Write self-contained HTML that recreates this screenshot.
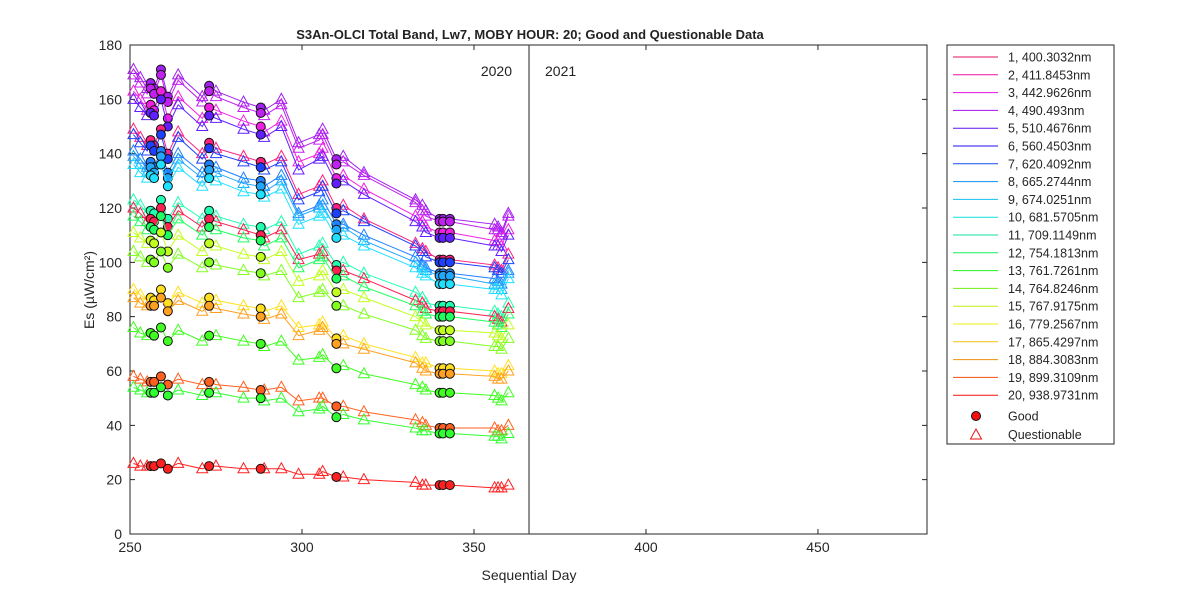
<!DOCTYPE html>
<html><head><meta charset="utf-8"><style>
body{margin:0;background:#fff;}
svg text{font-family:"Liberation Sans",Arial,sans-serif;}
</style></head><body>
<svg id="chart" width="1200" height="600" xmlns="http://www.w3.org/2000/svg">
<rect x="0" y="0" width="1200" height="600" fill="#fff"/>
<text x="530" y="39" text-anchor="middle" font-size="13" font-weight="bold" fill="#222">S3An-OLCI Total Band,  Lw7, MOBY HOUR: 20;  Good and Questionable Data</text>
<g id="plot"></g>
<text transform="translate(94,290) rotate(-90)" text-anchor="middle" font-size="14" fill="#262626">Es (µW/cm²)</text>
<text x="529" y="580" text-anchor="middle" font-size="14" fill="#262626">Sequential Day</text>
<text x="512" y="76" text-anchor="end" font-size="14" fill="#222">2020</text>
<text x="545" y="76" font-size="14" fill="#222">2021</text>
<g id="legend"></g>
</svg>
<script>
const days=[251,253,255,256,257,259,261,264,271,273,275,283,288,289,294,299,305,306,310,312,318,333,335,336,340,341,343,356,357,358,360];
const good=[0,0,0,1,1,1,1,0,0,1,0,0,1,0,0,0,0,0,1,0,0,0,0,0,1,1,1,0,0,0,0];
const sA=[171,168,164,166,164,171,161,169,161,165,163,159,157,156,160,144,147,149,138,139,133,123,121,119,116,116,116,114,113,111,118];
const sB=[169,166,162,164,162,169,159,167,159,163,161,157,155,154,158,142,145,147,136,137,132,122,119,117,115,115,115,112,112,110,117];
const sC=[163,160,156,158,156,163,153,161,153,157,156,152,150,148,152,137,140,142,131,132,127,117,115,113,111,111,111,108,108,106,112];
const sD=[160,157,154,155,154,160,150,158,150,154,153,149,147,146,150,134,138,139,129,130,125,115,113,111,109,109,109,106,106,104,110];
const sE=[149,146,143,145,143,149,140,148,140,144,142,139,137,136,139,125,128,130,120,121,116,107,105,104,101,101,101,99,98,97,103];
const sF=[147,144,141,143,141,147,138,146,138,142,140,137,135,134,137,123,126,128,118,119,115,106,104,102,100,100,100,98,97,96,101];
const sG=[141,138,135,137,135,141,133,140,133,136,135,131,130,128,132,118,121,123,114,114,110,102,99,98,96,96,96,94,93,92,97];
const sH=[139,136,133,135,133,139,131,138,131,134,133,129,128,126,130,117,120,121,112,113,108,100,98,97,95,95,95,92,92,90,96];
const sI=[136,133,131,132,131,136,128,135,128,131,130,126,125,124,127,114,117,118,109,110,106,98,96,95,92,92,92,90,90,88,94];
const sJ=[123,121,118,119,118,123,116,122,116,119,117,114,113,112,115,103,106,107,99,100,96,89,87,85,84,84,84,82,81,80,85];
const sT=[120,118,115,116,115,120,113,119,113,116,115,112,110,109,112,101,103,104,97,97,94,86,85,83,82,82,82,80,79,78,83];
const sK=[117,115,112,113,112,117,110,116,110,113,112,109,108,106,109,98,101,102,94,95,91,84,82,81,80,80,80,78,77,76,81];
const sL=[111,109,107,108,107,111,104,110,104,107,106,103,102,101,104,93,95,97,89,90,87,80,78,77,75,75,75,74,73,72,77];
const sM=[104,102,100,101,100,104,98,103,98,100,99,97,96,95,97,87,89,90,84,84,81,75,73,72,71,71,71,69,69,68,72];
const sN=[90,88,86,87,86,90,85,89,85,87,86,84,83,82,84,76,77,78,72,73,70,65,63,63,61,61,61,60,59,59,62];
const sO=[87,85,84,84,84,87,82,86,82,84,83,81,80,79,81,73,75,76,70,70,68,63,61,60,59,59,59,58,57,57,60];
const sP=[76,74,73,74,73,76,71,75,71,73,73,71,70,69,71,64,65,66,61,62,59,55,54,53,52,52,52,51,50,49,52];
const sQ=[58,57,56,56,56,58,55,57,55,56,55,54,53,53,54,49,50,50,47,47,45,42,41,40,39,39,39,39,38,38,40];
const sR=[54,53,52,52,52,54,51,53,51,52,52,50,50,49,50,45,46,47,43,44,42,39,38,38,37,37,37,36,36,35,37];
const sS=[26,25,25,25,25,26,24,26,24,25,25,24,24,24,24,22,22,23,21,21,20,19,18,18,18,18,18,17,17,17,18];
const series=[sA,sB,sC,sD,sE,sF,sG,sH,sI,sJ,sT,sK,sL,sM,sN,sO,sP,sQ,sR,sS];
const seriesColors=["#a020f0","#c020f0","#f020e0","#6020ff","#ff2080","#2040ff","#2080ff","#20a8ff","#20e0ff","#20ffb0","#ff2050","#20ff60","#c0ff20","#80ff20","#ffe020","#ffa020","#40ff20","#ff6020","#30ff30","#ff2020"];
const legendLabels=["1, 400.3032nm","2, 411.8453nm","3, 442.9626nm","4,  490.493nm","5, 510.4676nm","6, 560.4503nm","7, 620.4092nm","8, 665.2744nm","9, 674.0251nm","10, 681.5705nm","11, 709.1149nm","12, 754.1813nm","13, 761.7261nm","14, 764.8246nm","15, 767.9175nm","16, 779.2567nm","17, 865.4297nm","18, 884.3083nm","19, 899.3109nm","20, 938.9731nm"];
const legendColors=["#e0105f","#f010a0","#e010e0","#a010f0","#6010f0","#2010f0","#1050f0","#1090f0","#10c0f0","#10e0e0","#10e0a0","#10f060","#20f020","#70f010","#c0f010","#f0f010","#f0c010","#f09010","#f05010","#f01010"];
const xTicks=[250,300,350,400,450];
const yTicks=[0,20,40,60,80,100,120,140,160,180];

const L=130,R=927,T=45,B=534,X0=250,X1=481.7,Y0=0,Y1=180;
const xs=d=>L+(d-X0)/(X1-X0)*(R-L);
const ys=v=>B-(v-Y0)/(Y1-Y0)*(B-T);
const NS="http://www.w3.org/2000/svg";
const plot=document.getElementById('plot');
function mk(tag,attrs,parent){const e=document.createElementNS(NS,tag);for(const k in attrs)e.setAttribute(k,attrs[k]);(parent||plot).appendChild(e);return e;}

const frame=mk('rect',{x:L,y:T,width:R-L,height:B-T,fill:'#fff',stroke:'#262626','stroke-width':1});


xTicks.forEach(t=>{
  const x=xs(t);
  const tk=mk('path',{d:`M${x},${B}V${B-5}M${x},${T}V${T+5}`,stroke:'#262626'});
  
  
  const tl=mk('text',{x:x,y:B+18,'text-anchor':'middle','font-size':14,fill:'#262626'});
  tl.textContent=t;
  
  
});
yTicks.forEach(t=>{
  const y=ys(t);
  const tk=mk('path',{d:`M${L},${y}H${L+5}M${R},${y}H${R-5}`,stroke:'#262626'});
  
  
  const tl=mk('text',{x:L-8,y:y+5,'text-anchor':'end','font-size':14,fill:'#262626'});
  tl.textContent=t;
  
  
});
const yl=mk('line',{x1:xs(366),x2:xs(366),y1:T,y2:B,stroke:'#444','stroke-width':1.2});



series.forEach((vals,si)=>{
  const c=seriesColors[si];
  const g=mk('g',{});
  
  
  const line=mk('polyline',{points:vals.map((v,i)=>xs(days[i])+','+ys(v)).join(' '),fill:'none',stroke:c,'stroke-width':1},g);
  
  
  vals.forEach((v,i)=>{
    const x=xs(days[i]),y=ys(v);
    if(!good[i]){
      const tri=mk('path',{d:`M${x},${y-6}L${x+5.5},${y+4}L${x-5.5},${y+4}Z`,fill:'none',stroke:c,'stroke-width':1},g);
      
      
    }
  });
  vals.forEach((v,i)=>{
    if(good[i]){
      const ci=mk('circle',{cx:xs(days[i]),cy:ys(vals[i]),r:4.5,fill:c,stroke:'#111','stroke-width':1},g);
      
      
    }
  });
});

const lg=document.getElementById('legend');
mk('rect',{x:947,y:45,width:167,height:399,fill:'#fff',stroke:'#262626'},lg);
legendLabels.forEach((lab,i)=>{
  const y=57+i*17.8;
  const e=mk('g',{},lg);
  
  
  mk('line',{x1:953,x2:998,y1:y,y2:y,stroke:legendColors[i],'stroke-width':1},e);
  const t=mk('text',{x:1008,y:y+4.5,'font-size':12.5,fill:'#262626'},e);
  t.textContent=lab;
});
const ge=mk('g',{},lg);


mk('circle',{cx:976,cy:416,r:4.5,fill:'#f01010',stroke:'#111'},ge);
mk('text',{x:1008,y:420.5,'font-size':12.5,fill:'#262626'},ge).textContent='Good';
const qe=mk('g',{},lg);


mk('path',{d:'M976,429L981.5,439L970.5,439Z',fill:'none',stroke:'#f01010'},qe);
mk('text',{x:1008,y:439,'font-size':12.5,fill:'#262626'},qe).textContent='Questionable';
</script>
</body></html>
